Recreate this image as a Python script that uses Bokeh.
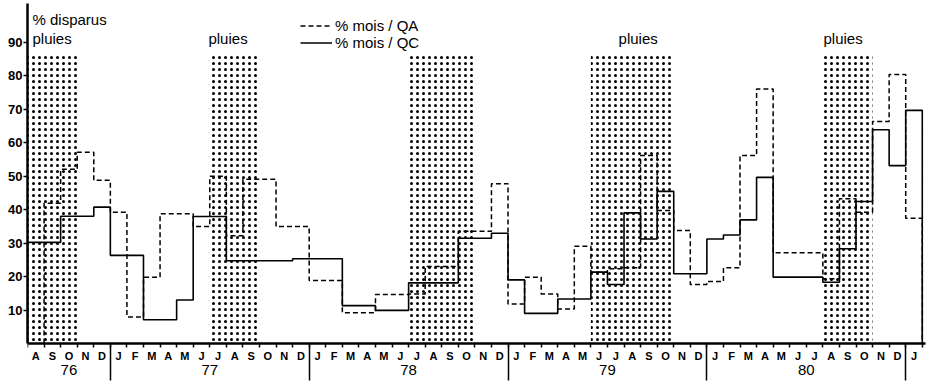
from bokeh.plotting import figure
from bokeh.models import Range1d, LinearAxis, FixedTicker, Legend, LegendItem
from bokeh.core.properties import value
from bokeh.embed import file_html
from bokeh.resources import INLINE

FONT = "Liberation Sans"

# ---------------- data ----------------
# months from Aug 1976 (index 0) to Jan 1981 (index 53)
month_labels = ["A", "S", "O", "N", "D"] + \
    ["J", "F", "M", "A", "M", "J", "J", "A", "S", "O", "N", "D"] * 4 + ["J"]
year_labels = ["76", "77", "78", "79", "80"]
year_first = [0, 5, 17, 29, 41]
year_last = [4, 16, 28, 40, 52]

# % mois / QC (solid), months 0..53
qc = [30.2, 30.2, 38.0, 38.0, 40.7, 26.3, 26.3, 7.1, 7.1, 13.0,
      37.9, 37.9, 24.7, 24.7, 24.7, 24.7, 25.3, 25.3, 25.3, 11.3,
      11.3, 9.9, 9.9, 18.1, 18.1, 18.1, 31.4, 31.4, 32.9, 19.0,
      9.0, 9.0, 13.3, 13.3, 21.3, 17.6, 39.0, 31.2, 45.4, 20.8,
      20.8, 31.2, 32.4, 36.9, 49.6, 19.8, 19.8, 19.8, 18.3, 28.3,
      42.4, 63.8, 53.1, 69.6]
qc_first = 0

# % mois / QA (dashed), months 1..53
qa = [41.9, 52.0, 57.1, 48.7, 39.2, 7.9, 19.8, 38.7, 38.7,
      34.9, 49.9, 32.2, 49.0, 49.0, 34.9, 34.9, 18.8, 18.8, 9.2,
      9.2, 14.6, 14.6, 14.8, 23.0, 23.0, 33.5, 33.5, 47.7, 11.8,
      19.8, 14.8, 10.3, 29.0, 21.3, 22.3, 22.6, 56.1, 39.7, 33.7,
      17.6, 18.5, 22.6, 56.1, 76.0, 27.1, 27.1, 27.1, 19.3, 43.2,
      39.2, 66.3, 80.3, 37.4]
qa_first = 1

# rainy periods (first and last month index)
rain_first = [0, 11, 23, 34, 48]
rain_last = [2, 13, 26, 38, 50]
rain_top = 86
rain_text = "pluies"
rain_labelled = [0, 1, 3, 4]

legend_labels = ["% mois / QA", "% mois / QC"]
y_title = "% disparus"
y_ticks = [10, 20, 30, 40, 50, 60, 70, 80, 90]

# ---------------- layout constants ----------------
W, H = 933, 382
LEFT, TOP = 27, 3
PX_MONTH = 16.57           # px per month
PX_UNIT = 3.35             # px per %
X0 = -0.5
X1 = X0 + (W - LEFT) / PX_MONTH
Y1 = (343 - TOP) / PX_UNIT
Y0 = -(H - 343) / PX_UNIT
XAXIS_END = 53.7
YEAR_AXIS_AT = -18 / PX_UNIT
pluies_x = [-0.2, 10.42, 35.17, 47.54]
pluies_y = 91.0
title_y = 96.7


def step_path(first, vals):
    xs, ys = [first - 0.5], [0]
    for i, v in enumerate(vals):
        m = first + i
        xs += [m - 0.5, m + 0.5]
        ys += [v, v]
    xs.append(first + len(vals) - 0.5)
    ys.append(0)
    return xs, ys


p = figure(width=W, height=H, x_range=Range1d(X0, X1), y_range=Range1d(Y0, Y1),
           x_axis_type=None, y_axis_type=None, output_backend="svg", toolbar_location=None,
           min_border_left=LEFT, min_border_right=0, min_border_top=TOP, min_border_bottom=0)
p.outline_line_color = None
p.background_fill_color = "white"
p.border_fill_color = "white"

# rainy periods, dotted
p.quad(left=[f - 0.5 for f in rain_first], right=[l + 0.5 for l in rain_last],
       bottom=0, top=rain_top, fill_color=None, line_color=None,
       hatch_pattern="dot", hatch_scale=6, hatch_weight=1.0, hatch_color="black")

xa, ya = step_path(qa_first, qa)
xc, yc = step_path(qc_first, qc)
r_qa = p.line(xa, ya, line_color="black", line_width=1.5, line_dash="5 3")
r_qc = p.line(xc, yc, line_color="black", line_width=1.6)

p.text(x=pluies_x, y=[pluies_y] * len(rain_labelled),
       text=[rain_text] * len(rain_labelled), text_font=value(FONT), text_font_size="15px",
       text_baseline="alphabetic", text_align="left", text_color="black")
p.text(x=[-0.2], y=[title_y], text=[y_title], text_font=value(FONT), text_font_size="15px",
       text_baseline="alphabetic", text_align="left", text_color="black")

# y axis
yax = LinearAxis(ticker=FixedTicker(ticks=y_ticks), bounds=(0, Y1),
                 axis_line_width=2.5, axis_line_color="black",
                 major_tick_out=4, major_tick_in=0, major_tick_line_width=1.5,
                 minor_tick_out=0, minor_tick_in=0, major_label_standoff=1,
                 major_label_text_font=FONT, major_label_text_font_size="13px",
                 major_label_text_font_style="bold", major_label_text_color="black")
p.add_layout(yax, "left")

# month axis, drawn at y = 0
mticks = list(range(len(month_labels)))
medges = [m - 0.5 for m in range(len(month_labels) + 1)]
max_ = LinearAxis(ticker=FixedTicker(ticks=mticks, minor_ticks=medges),
                  fixed_location=0, bounds=(X0, XAXIS_END),
                  major_label_overrides={m: lab for m, lab in enumerate(month_labels)},
                  axis_line_width=2.5, axis_line_color="black",
                  major_tick_out=0, major_tick_in=0, minor_tick_out=4, minor_tick_in=0,
                  minor_tick_line_width=1.5, major_label_standoff=2,
                  major_label_text_font=FONT, major_label_text_font_size="11px",
                  major_label_text_font_style="bold", major_label_text_color="black")
p.add_layout(max_, "below")

# year axis with long separators
ycent = [(a + b) / 2 for a, b in zip(year_first, year_last)]
yedges = [b + 0.5 for b in year_last]
yrax = LinearAxis(ticker=FixedTicker(ticks=ycent, minor_ticks=yedges),
                  fixed_location=YEAR_AXIS_AT,
                  major_label_overrides={c: l for c, l in zip(ycent, year_labels)},
                  axis_line_color=None, major_tick_out=0, major_tick_in=0,
                  minor_tick_in=18, minor_tick_out=19, minor_tick_line_width=1.5,
                  minor_tick_line_color="black", major_label_standoff=-16,
                  major_label_text_font=FONT, major_label_text_font_size="15px",
                  major_label_text_color="black")
p.add_layout(yrax, "below")

legend = Legend(items=[LegendItem(label=legend_labels[0], renderers=[r_qa]),
                       LegendItem(label=legend_labels[1], renderers=[r_qc])],
                location=(273, 331), orientation="vertical", glyph_width=32, glyph_height=15,
                label_height=15, spacing=0, padding=0, margin=0, label_standoff=3,
                border_line_color=None, background_fill_alpha=0,
                label_text_font=FONT, label_text_font_size="15px", label_text_color="black")
p.add_layout(legend)

open("out.html", "w").write(file_html(p, INLINE))
